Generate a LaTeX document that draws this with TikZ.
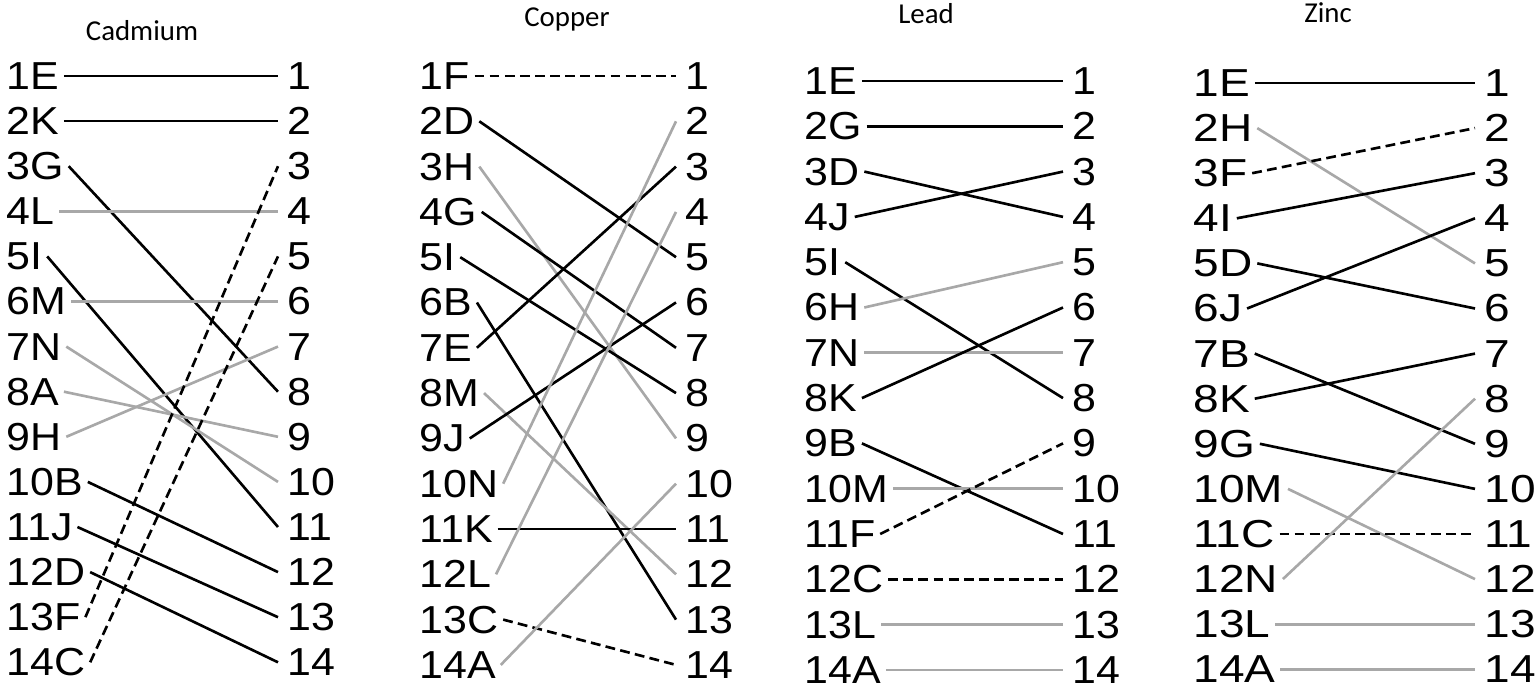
\documentclass[tikz,border=0pt]{standalone}
\usepackage{fontspec}
\setmainfont{Liberation Sans}
\newfontfamily\titlefont{Carlito}
\newfontfamily\labfont[FakeStretch=1.1]{Liberation Sans}
\newfontfamily\widefont[FakeStretch=1.18]{Liberation Sans}
\newcommand\labsize{\fontsize{11.1pt}{13pt}\selectfont}
\newcommand\ttlsize{\fontsize{8.2pt}{10pt}\selectfont}
\definecolor{lgray}{RGB}{168,168,168}
\tikzset{
  ttl/.style={anchor=base, inner sep=0pt, font=\titlefont\ttlsize},
  llab/.style={anchor=west, inner xsep=0.04cm, xshift=-0.04cm, inner ysep=0pt, font=\labfont\labsize},
  rlab/.style={anchor=west, inner xsep=0.09cm, xshift=-0.09cm, inner ysep=0pt, font=\labfont\labsize},
  wlab/.style={llab, font=\widefont\labsize},
  wrlab/.style={rlab, font=\widefont\labsize},
  blk/.style={draw=black, line width=0.75pt},
  gry/.style={draw=lgray, line width=0.75pt},
  dsh/.style={draw=black, line width=0.75pt, dash pattern=on 2.8pt off 1.5pt}
}
\begin{document}
\begin{tikzpicture}[x=0.01cm, y=-0.01cm]
\useasboundingbox (0,0) rectangle (1536,688);

% ---- Cadmium ----
\node[ttl] (tcd) at (142,41) {Cadmium};
\foreach \t [count=\i] in {1E,2K,3G,4L,5I,6M,7N,8A,9H,10B,11J,12D,13F,14C}
  \node[llab] (cdL\i) at (6,{76+45.1*(\i-1)}) {\t};
\foreach \i in {1,...,14}
  \node[rlab] (cdR\i) at (287,{76+45.1*(\i-1)}) {\i};
\foreach \a/\b/\s in {1/1/blk,2/2/blk,3/8/blk,4/4/gry,5/11/blk,6/6/gry,7/10/gry,
    8/9/gry,9/7/gry,10/12/blk,11/13/blk,12/14/blk,13/3/dsh,14/5/dsh}
  \draw[\s] (cdL\a.east) -- (cdR\b.west);

% ---- Copper ----
\node[ttl] (tcu) at (567,27) {Copper};
\foreach \t [count=\i] in {1F,2D,3H,4G,5I,6B,7E,8M,9J,10N,11K,12L,13C,14A}
  \node[llab] (cuL\i) at (419,{76+45.3*(\i-1)}) {\t};
\foreach \i in {1,...,14}
  \node[rlab] (cuR\i) at (685,{76+45.3*(\i-1)}) {\i};
\foreach \a/\b/\s in {1/1/dsh,2/5/blk,3/9/gry,4/7/blk,5/8/blk,6/13/blk,7/3/blk,
    8/12/gry,9/6/blk,10/2/gry,11/11/blk,12/4/gry,13/14/dsh,14/10/gry}
  \draw[\s] (cuL\a.east) -- (cuR\b.west);

% ---- Lead ----
\node[ttl] (tpb) at (926,24) {Lead};
\foreach \t [count=\i] in {1E,2G,3D,4J,5I,6H,7N,8K,9B,10M,11F,12C,13L,14A}
  \node[llab] (pbL\i) at (804,{81+45.3*(\i-1)}) {\t};
\foreach \i in {1,...,14}
  \node[rlab] (pbR\i) at (1072,{81+45.3*(\i-1)}) {\i};
\foreach \a/\b/\s in {1/1/blk,2/2/blk,3/4/blk,4/3/blk,5/8/blk,6/5/gry,7/7/gry,
    8/6/blk,9/11/blk,10/10/gry,11/9/dsh,12/12/dsh,13/13/gry,14/14/gry}
  \draw[\s] (pbL\a.east) -- (pbR\b.west);

% ---- Zinc ----
\node[ttl] (tzn) at (1328,23) {Zinc};
\foreach \t [count=\i] in {1E,2H,3F,4I,5D,6J,7B,8K,9G,10M,11C,12N,13L,14A}
  \node[wlab] (znL\i) at (1193,{83+45.1*(\i-1)}) {\t};
\foreach \i in {1,...,14}
  \node[wrlab] (znR\i) at (1484,{83+45.1*(\i-1)}) {\i};
\foreach \a/\b/\s in {1/1/blk,2/5/gry,3/2/dsh,4/3/blk,5/6/blk,6/4/blk,7/9/blk,
    8/7/blk,9/10/blk,10/12/gry,11/11/dsh,12/8/gry,13/13/gry,14/14/gry}
  \draw[\s] (znL\a.east) -- (znR\b.west);
\end{tikzpicture}
\end{document}
